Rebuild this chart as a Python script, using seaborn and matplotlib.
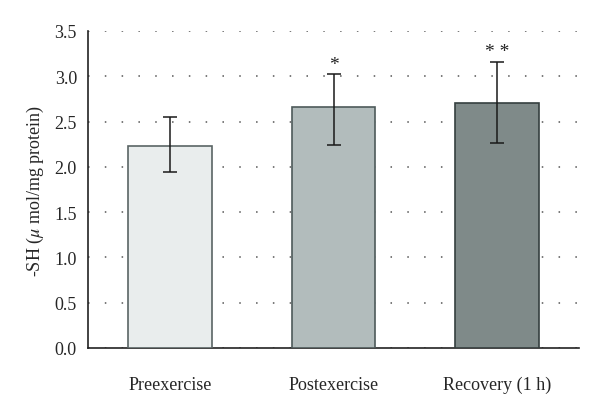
import matplotlib
matplotlib.use("Agg")
import matplotlib.pyplot as plt
import seaborn as sns
import pandas as pd
import numpy as np

groups = ["Preexercise", "Postexercise", "Recovery (1 h)"]
means = [2.23, 2.66, 2.71]
err_low = [0.29, 0.42, 0.45]
err_high = [0.32, 0.36, 0.45]
stars = ["", "*", "* *"]
bar_colors = ["#e8eeee", "#b0bebd", "#7d8c8b"]
edge_colors = ["#5a6565", "#4e5a5a", "#353f3f"]

sns.set_style("white")
plt.rcParams["font.family"] = ["Liberation Serif", "DejaVu Serif"]
plt.rcParams["mathtext.fontset"] = "stix"

df = pd.DataFrame({"group": groups, "value": means})

fig = plt.figure(figsize=(6, 4.1), dpi=100)
ax = fig.add_axes([0.1467, 0.1488, 0.8183, 0.7732])

sns.barplot(data=df, x="group", y="value", hue="group", palette=bar_colors,
            width=0.51, legend=False, ax=ax, zorder=3)
for patch, ec in zip(ax.patches, edge_colors):
    patch.set_edgecolor(ec)
    patch.set_linewidth(1.2)

x = np.arange(len(groups))
ax.errorbar(x, means, yerr=[err_low, err_high], fmt="none", ecolor="#1a1a1a",
            elinewidth=1.1, capsize=5, capthick=1.1, zorder=4)
for xi, m, h, s in zip(x, means, err_high, stars):
    if s:
        ax.text(xi, m + h + 0.02, s, ha="center", va="bottom", fontsize=14,
                color="#222222", zorder=5)

ax.set_ylim(0, 3.5)
ax.set_xlim(-0.5, 2.5)
ax.set_yticks(np.arange(0, 3.51, 0.5))
ax.set_yticklabels([f"{v:.1f}" for v in np.arange(0, 3.51, 0.5)])
ax.set_xticks(x)
ax.set_xticklabels(groups)
ax.set_xticks([-0.5, 0.5, 1.5, 2.5], minor=True)
ax.tick_params(axis="x", which="major", length=0, pad=20, labelsize=13)
ax.tick_params(axis="x", which="minor", length=5, width=1, color="#222222", direction="out")
ax.tick_params(axis="y", length=5, width=1, color="#222222", direction="out", labelsize=13, pad=3)
ax.yaxis.grid(True, linestyle=(0, (1, 10)), color="#555555", linewidth=1.1, zorder=0)
ax.set_axisbelow(True)

ax.set_xlabel("")
ax.set_ylabel(r"-SH ($\mu$ mol/mg protein)", fontsize=13, labelpad=6)

for side in ["top", "right"]:
    ax.spines[side].set_visible(False)
for side in ["left", "bottom"]:
    ax.spines[side].set_color("#222222")
    ax.spines[side].set_linewidth(1.2)

fig.savefig("out.png", dpi=100)
